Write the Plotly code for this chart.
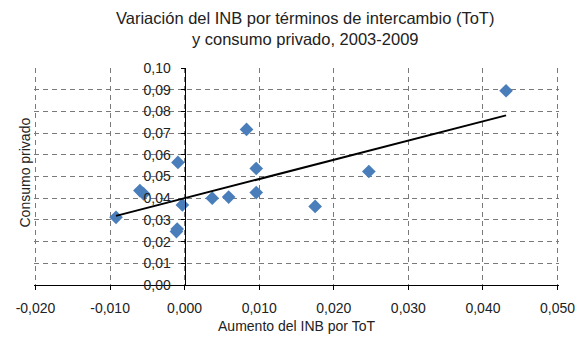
import numpy as np
import plotly.graph_objects as go

# Data
aumento_inb_tot = [-0.0092, -0.0060, -0.0055, -0.0009, -0.0003, -0.0011, -0.0010,
                   0.0037, 0.0059, 0.0083, 0.0096, 0.0096, 0.0175, 0.0247, 0.0431]
consumo_privado = [0.0312, 0.0435, 0.0420, 0.0565, 0.0369, 0.0246, 0.0258,
                   0.0400, 0.0405, 0.0717, 0.0537, 0.0426, 0.0362, 0.0523, 0.0895]

x_ticks = [-0.02, -0.01, 0.0, 0.01, 0.02, 0.03, 0.04, 0.05]
y_ticks = [0.0, 0.01, 0.02, 0.03, 0.04, 0.05, 0.06, 0.07, 0.08, 0.09, 0.10]
x_ticktext = [f"{v:.3f}".replace(".", ",") for v in x_ticks]
y_ticktext = [f"{v:.2f}".replace(".", ",") for v in y_ticks]

title_text = "Variación del INB por términos de intercambio (ToT)<br>y consumo privado, 2003-2009"
x_title = "Aumento del INB por ToT"
y_title = "Consumo privado"

# Linear trend line (least squares) from the data
xa = np.array(aumento_inb_tot)
ya = np.array(consumo_privado)
slope, intercept = np.polyfit(xa, ya, 1)
trend_x = [xa.min(), xa.max()]
trend_y = [slope * v + intercept for v in trend_x]

FONT = "Liberation Sans, Arial, sans-serif"
TXT = "#222222"
GRID_COLOR = "#7a7a7a"
GRID_DASH = "5px,4px"
eps = 0.0002  # keeps the end gridlines from being clipped
x_range = [x_ticks[0] - eps, x_ticks[-1] + eps]
y_range = [y_ticks[0], y_ticks[-1]]
y_axis_pos = (0 - x_range[0]) / (x_range[1] - x_range[0])

L, R, T, B = 34, 21, 68, 55
PW, PH = 580 - L - R, 340 - T - B

fig = go.Figure()
fig.add_trace(go.Scatter(
    x=aumento_inb_tot, y=consumo_privado, mode="markers",
    marker=dict(symbol="diamond", size=10.5, color="#4a7ebb",
                line=dict(width=0)),
    showlegend=False, hoverinfo="skip",
))
fig.add_trace(go.Scatter(
    x=trend_x, y=trend_y, mode="lines",
    line=dict(color="black", width=2),
    showlegend=False, hoverinfo="skip",
))

grid_kw = dict(showgrid=True, gridcolor=GRID_COLOR, griddash=GRID_DASH, gridwidth=1,
               zeroline=False, showline=True, linecolor="black", linewidth=1,
               ticks="outside", ticklen=4, tickcolor="black", automargin=False,
               tickfont=dict(size=14))

annotations = [
    dict(text=y_title, textangle=-90, xref="paper", yref="paper",
         x=(24.5 - L) / PW, y=1 - (173 - T) / PH, xanchor="center", yanchor="middle",
         showarrow=False, font=dict(size=14)),
    dict(text=title_text, xref="paper", yref="paper",
         x=(305 - L) / PW, y=1 + (T - 28.5) / PH,
         xanchor="center", yanchor="middle", showarrow=False,
         font=dict(size=16.5, color=TXT)),
]

fig.update_layout(
    width=580, height=340,
    margin=dict(l=L, r=R, t=T, b=B, autoexpand=False),
    paper_bgcolor="white", plot_bgcolor="white",
    font=dict(family=FONT, size=14, color=TXT),
    xaxis=dict(
        range=x_range, tickvals=x_ticks, ticktext=x_ticktext,
        ticklabelstandoff=6,
        title=dict(text=x_title, standoff=6, font=dict(size=14)),
        **grid_kw,
    ),
    yaxis=dict(
        range=y_range, tickvals=y_ticks, ticktext=y_ticktext,
        anchor="free", position=y_axis_pos, ticklabelstandoff=7,
        **grid_kw,
    ),
    annotations=annotations,
)

fig.write_html("out.html", config={"displayModeBar": False},
               post_script="document.body.style.margin='0';document.body.style.overflow='hidden';")
